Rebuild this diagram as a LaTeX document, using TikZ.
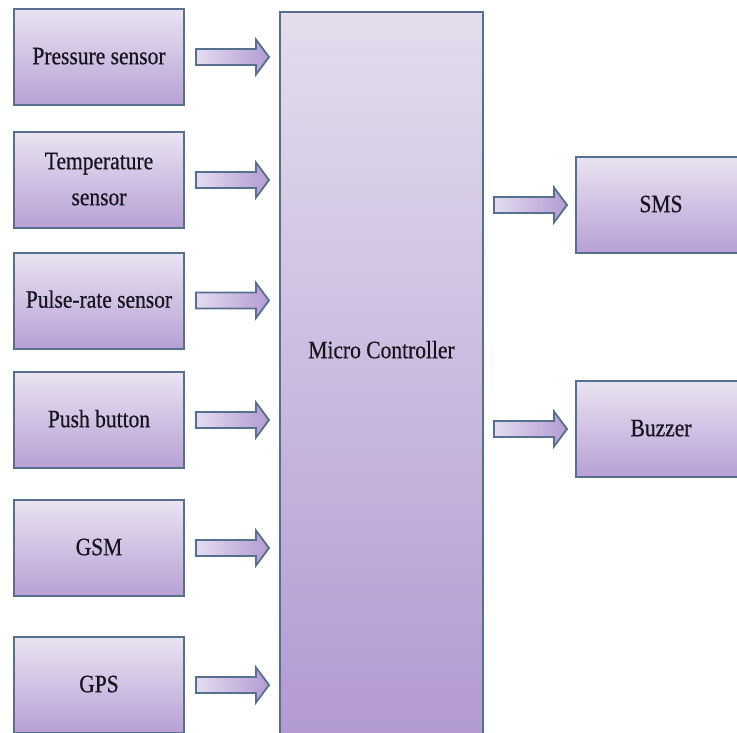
\documentclass[tikz,border=0pt]{standalone}
\usepackage{fontspec}
\setmainfont{Liberation Serif}[FakeBold=0.6]
\usepackage{graphicx}
\usetikzlibrary{calc}
\definecolor{boxtop}{HTML}{E9E3F1}
\definecolor{boxbot}{HTML}{B8A0D6}
\definecolor{mctop}{HTML}{E3DDED}
\definecolor{mcbot}{HTML}{B299D2}
\definecolor{edge}{HTML}{587090}
\definecolor{arrl}{HTML}{E2DCEF}
\definecolor{arrr}{HTML}{B59BD5}
\definecolor{txt}{HTML}{16141F}
\newcommand{\lbl}[1]{\scalebox{0.86}[1]{\begin{tabular}{@{}c@{}}#1\end{tabular}}}
% #1 start point, #2 tip reference point, #3 start gap, #4 tip gap
\newcommand{\blkarrow}[4]{%
  \coordinate (A) at ($#1+(#3,0)$);
  \coordinate (T) at ($#2+(-#4,0)$);
  \draw[barrow] ($(A)+(0,-8)$) -- ($(T)+(-13,-8)$) -- ($(T)+(-13,-17.5)$) -- (T)
    -- ($(T)+(-13,17.5)$) -- ($(T)+(-13,8)$) -- ($(A)+(0,8)$) -- cycle;}
\begin{document}
\begin{tikzpicture}[x=1pt,y=-1pt,
  box/.style={draw=edge,line width=2pt,top color=boxtop,bottom color=boxbot,
    minimum width=170pt,minimum height=96pt,inner sep=0pt,text=txt,
    font=\fontsize{25}{36}\selectfont},
  mcbox/.style={draw=edge,line width=2pt,top color=mctop,bottom color=mcbot,
    minimum width=203pt,minimum height=730pt,inner sep=0pt},
  mctext/.style={text=txt,inner sep=0pt,font=\fontsize{25}{36}\selectfont},
  barrow/.style={draw=edge,line width=1.8pt,line join=miter,left color=arrl,right color=arrr}]
\useasboundingbox (0,0) rectangle (737,733);
\node[box] (p1) at (99,57) {\lbl{Pressure sensor}};
\node[box] (p2) at (99,180) {\lbl{Temperature\\sensor}};
\node[box] (p3) at (99,300.5) {\lbl{Pulse-rate sensor}};
\node[box] (p4) at (99,420) {\lbl{Push button}};
\node[box] (p5) at (99,548) {\lbl{GSM}};
\node[box] (p6) at (99,685) {\lbl{GPS}};
\node[mcbox] (mc) at (381.5,377) {};
\node[mctext] (mcl) at ($(mc.north)+(0,340)$) {\lbl{Micro Controller}};
\node[box] (sms) at (661,205) {\lbl{SMS}};
\node[box] (buz) at (661,429) {\lbl{Buzzer}};
\foreach \n in {p1,p2,p3,p4,p5,p6}{
  \blkarrow{(\n.east)}{(mc.west |- \n.east)}{11}{10}
}
\blkarrow{(mc.east |- sms.west)}{(sms.west)}{10}{8}
\blkarrow{(mc.east |- buz.west)}{(buz.west)}{10}{8}
\end{tikzpicture}
\end{document}
